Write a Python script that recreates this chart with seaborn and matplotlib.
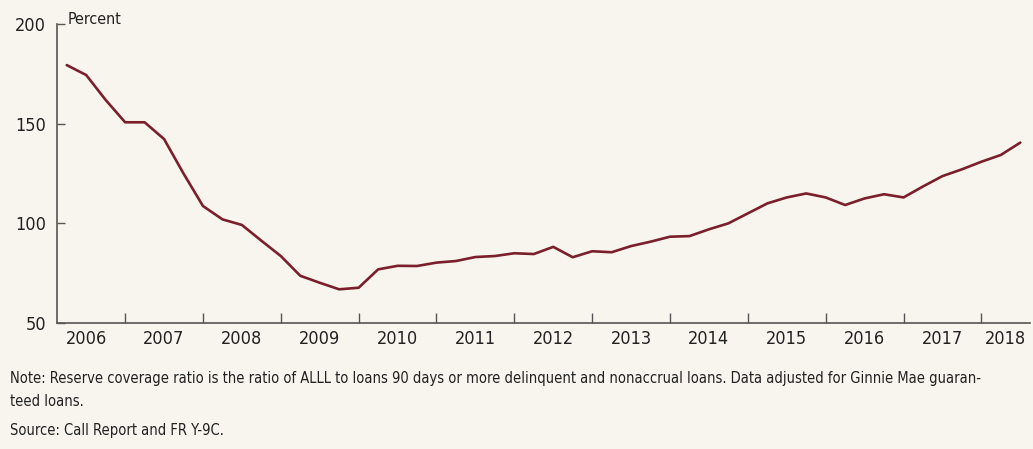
import numpy as np
import pandas as pd
import matplotlib
matplotlib.use('Agg')
import matplotlib.pyplot as plt
import seaborn as sns

# Quarterly reserve coverage ratio, 2006:Q1 - 2018:Q2 (percent)
years = [2006] * 4 + [2007] * 4 + [2008] * 4 + [2009] * 4 + [2010] * 4 + [2011] * 4 + \
        [2012] * 4 + [2013] * 4 + [2014] * 4 + [2015] * 4 + [2016] * 4 + [2017] * 4 + [2018] * 2
quarters = [1, 2, 3, 4] * 12 + [1, 2]
coverage = [179.4, 174.4, 161.9, 150.7,
            150.7, 142.3, 125.0, 108.7,
            102.0, 99.2, 91.3, 83.6,
            73.7, 70.2, 66.9, 67.7,
            76.9, 78.7, 78.6, 80.3,
            81.1, 83.1, 83.6, 85.0,
            84.6, 88.2, 83.0, 86.0,
            85.5, 88.6, 90.8, 93.3,
            93.6, 97.0, 100.0, 105.0,
            110.0, 113.0, 115.0, 113.0,
            109.2, 112.5, 114.6, 113.0,
            118.5, 123.7, 127.1, 130.9,
            134.3, 140.5]

year_labels = ['2006', '2007', '2008', '2009', '2010', '2011', '2012',
               '2013', '2014', '2015', '2016', '2017', '2018']

note_line1 = ("Note: Reserve coverage ratio is the ratio of ALLL to loans 90 days or more delinquent and "
              "nonaccrual loans. Data adjusted for Ginnie Mae guaran-")
note_line2 = "teed loans."
source = "Source: Call Report and FR Y-9C."

# quarter-end positions on a decimal-year axis
df = pd.DataFrame({'year': years, 'quarter': quarters, 'ratio': coverage})
df['t'] = df['year'] + df['quarter'] / 4

bg = '#f8f5ef'
line_color = '#7a1f2b'
axis_color = '#555555'
text_color = '#222222'

sns.set_style('white')
plt.rcParams['font.family'] = ['DejaVu Sans']
plt.rcParams['font.stretch'] = 'condensed'

fig = plt.figure(figsize=(10.33, 4.49), dpi=100, facecolor=bg)
ax = fig.add_axes([0.0552, 0.2806, 0.9419, 0.6659], facecolor=bg)

sns.lineplot(data=df, x='t', y='ratio', ax=ax, color=line_color, linewidth=1.9)

ax.set_xlim(2006.125, 2018.625)
ax.set_ylim(50, 200)

# y axis
ax.set_yticks([50, 100, 150, 200])
ax.tick_params(axis='y', left=True, direction='in', length=6, width=1, color=axis_color,
               labelsize=13, pad=8, labelcolor=text_color)

# x axis: ticks at year boundaries, labels centred in each year
ax.set_xticks(np.arange(2007, 2019), minor=False)
ax.set_xticklabels([])
ax.tick_params(axis='x', which='major', bottom=True, direction='in', length=7, width=1,
               color=axis_color)
label_pos = [int(y) + 0.5 for y in year_labels[:-1]] + [2018.31]
ax.set_xticks(label_pos, minor=True)
ax.set_xticklabels(year_labels, minor=True)
ax.tick_params(axis='x', which='minor', bottom=True, length=0, labelsize=13, pad=5,
               labelcolor=text_color)

for side in ['top', 'right']:
    ax.spines[side].set_visible(False)
for side in ['left', 'bottom']:
    ax.spines[side].set_color(axis_color)
    ax.spines[side].set_linewidth(1.2)
ax.set_xlabel('')
ax.set_ylabel('')

fig.text(68 / 1033, 1 - 20 / 449, 'Percent', fontsize=11.5,
         ha='left', va='center', color=text_color)

x0 = 10 / 1033
t1 = fig.text(x0, 1 - 379 / 449, note_line1, fontsize=10.5, ha='left', va='center',
              color=text_color)
t2 = fig.text(x0, 1 - 401 / 449, note_line2, fontsize=10.5, ha='left', va='center',
              color=text_color)
t3 = fig.text(x0, 1 - 431 / 449, source, fontsize=10.5, ha='left', va='center',
              color=text_color)

# shrink the note so its first line ends where the reference's does
renderer = fig.canvas.get_renderer()
w = t1.get_window_extent(renderer).width
target = 1008
if w > target:
    fs = 10.5 * target / w
    for t in (t1, t2, t3):
        t.set_fontsize(fs)

fig.savefig('out.png', dpi=100, facecolor=bg)
